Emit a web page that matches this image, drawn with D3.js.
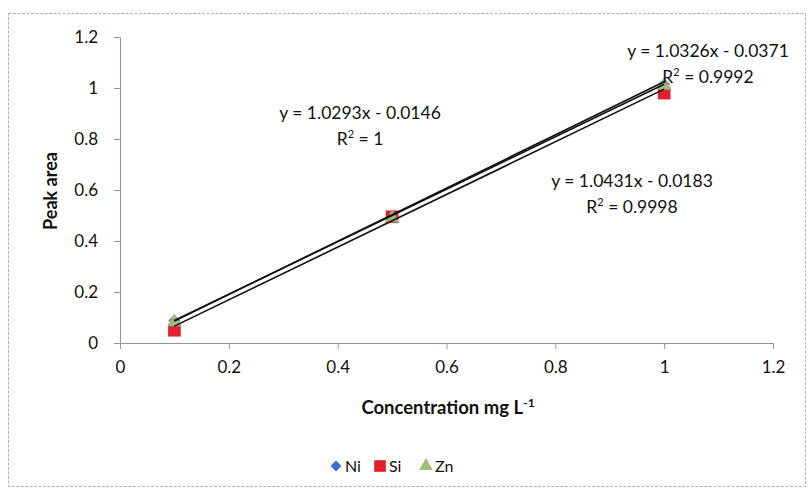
<!DOCTYPE html>
<html>
<head>
<meta charset="utf-8">
<script src="https://cdn.jsdelivr.net/npm/d3@7"></script>
<style>
  html, body { margin: 0; padding: 0; background: #fff; }
  svg text { font-family: Lato, "Open Sans", sans-serif; fill: #111; }
</style>
</head>
<body>
<svg id="chart" width="811" height="496"></svg>
<script>
// Calibration concentrations (mg L-1)
const concentrations = [0.1, 0.5, 1.0];
// Peak areas per element
const niValues = [0.088, 0.500, 1.015];
const siValues = [0.050, 0.495, 0.980];
const znValues = [0.082, 0.490, 1.010];
// Linear fits: slope, intercept, R²
const seriesNames = ["Ni", "Si", "Zn"];
const fitSlopes = [1.0293, 1.0326, 1.0431];
const fitIntercepts = [-0.0146, -0.0371, -0.0183];
const fitR2 = ["1", "0.9992", "0.9998"];
const xTicks = [0, 0.2, 0.4, 0.6, 0.8, 1, 1.2];
const yTicks = [0, 0.2, 0.4, 0.6, 0.8, 1, 1.2];

const svg = d3.select("#chart");

// chart frame
svg.append("rect")
  .attr("x", 8.5).attr("y", 13.5).attr("width", 797).attr("height", 473)
  .attr("fill", "#fff").attr("stroke", "#a8b0d0").attr("stroke-width", 1)
  .attr("stroke-dasharray", "3,1.5");

const x = d3.scaleLinear().domain([0, 1.2]).range([120, 773]);
const y = d3.scaleLinear().domain([0, 1.2]).range([343, 37]);

const fmt = d => d === 0 ? "0" : (Number.isInteger(d) ? String(d) : d.toFixed(1));

// axes
const xAxis = svg.append("g").attr("transform", "translate(0,343)")
  .call(d3.axisBottom(x).tickValues(xTicks).tickFormat(fmt).tickSize(6).tickPadding(12));
const yAxis = svg.append("g").attr("transform", "translate(120,0)")
  .call(d3.axisLeft(y).tickValues(yTicks).tickFormat(fmt).tickSize(6).tickPadding(16));
[xAxis, yAxis].forEach(g => {
  g.selectAll("path, line").attr("stroke", "#8a93b8").attr("stroke-width", 1);
  g.selectAll("text").attr("font-size", 17).style("font-family", "Lato, 'Open Sans', sans-serif").attr("fill", "#111");
});

// axis titles
svg.append("text").attr("x", 448).attr("y", 414).attr("text-anchor", "middle")
  .attr("font-size", 18.5).attr("font-weight", "bold")
  .text("Concentration mg L")
  .append("tspan").attr("dy", -7).attr("font-size", 12).text("-1");
svg.append("text").attr("transform", "translate(57,191) rotate(-90)")
  .attr("text-anchor", "middle").attr("font-size", 18).attr("font-weight", "bold")
  .text("Peak area");

// markers
const data = [
  { name: "Ni", values: niValues, color: "#3d6fce", shape: d3.symbolSquare, rot: 45, size: 70 },
  { name: "Si", values: siValues, color: "#e0202c", shape: d3.symbolSquare, rot: 0, size: 160 },
  { name: "Zn", values: znValues, color: "#9fbb7a", shape: d3.symbolTriangle, rot: 0, size: 95 }
];
data.forEach(s => {
  svg.append("g").selectAll("path").data(s.values).join("path")
    .attr("d", d3.symbol().type(s.shape).size(s.size))
    .attr("transform", (v, i) => `translate(${x(concentrations[i])},${y(v)}) rotate(${s.rot})`)
    .attr("fill", s.color);
});

// trendlines over the markers
const xMin = d3.min(concentrations), xMax = d3.max(concentrations);
fitSlopes.forEach((m, i) => {
  const b = fitIntercepts[i];
  svg.append("line")
    .attr("x1", x(xMin)).attr("y1", y(m * xMin + b))
    .attr("x2", x(xMax)).attr("y2", y(m * xMax + b))
    .attr("stroke", "#111").attr("stroke-width", 1.6);
});

// fit equations
const labelPos = [[360, 119], [708, 57], [632, 187]];
fitSlopes.forEach((m, i) => {
  const [lx, ly] = labelPos[i];
  const b = fitIntercepts[i];
  const sign = b < 0 ? "-" : "+";
  svg.append("text").attr("x", lx).attr("y", ly).attr("text-anchor", "middle")
    .attr("font-size", 17.5).text(`y = ${m.toFixed(4)}x ${sign} ${Math.abs(b).toFixed(4)}`);
  const r = svg.append("text").attr("x", lx).attr("y", ly + 26).attr("text-anchor", "middle")
    .attr("font-size", 17.5);
  r.append("tspan").text("R");
  r.append("tspan").attr("dy", -7).attr("font-size", 11).text("2");
  r.append("tspan").attr("dy", 7).text(` = ${fitR2[i]}`);
});

// legend
const legendX = [336, 380, 426];
data.forEach((s, i) => {
  const g = svg.append("g").attr("transform", `translate(${legendX[i]},466)`);
  g.append("path").attr("d", d3.symbol().type(s.shape).size(s.size * 0.85))
    .attr("transform", `rotate(${s.rot})`).attr("fill", s.color);
  g.append("text").attr("x", 9).attr("y", 6).attr("font-size", 16).text(s.name);
});
</script>
</body>
</html>
